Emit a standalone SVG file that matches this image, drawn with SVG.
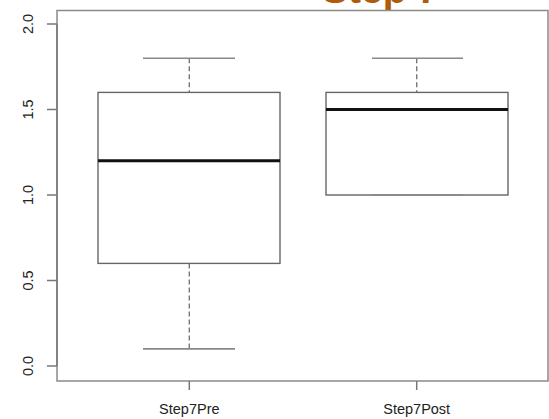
<svg xmlns="http://www.w3.org/2000/svg" width="549" height="419" viewBox="0 0 549 419">
<style>
.frame{fill:none;stroke:#8a8a8a;stroke-width:1.5}
.axis{fill:none;stroke:#777;stroke-width:1.5}
.box{fill:#fff;stroke:#666;stroke-width:1.4}
.med{stroke:#111;stroke-width:3}
.whisk{stroke:#777;stroke-width:1.4;stroke-dasharray:5 3}
.cap{stroke:#888;stroke-width:1.6}
.lbl{font-family:"Liberation Sans",Arial,sans-serif;font-size:14.5px;fill:#222}
.title{font-family:"Liberation Sans",Arial,sans-serif;font-size:39px;font-weight:bold;fill:#b05a0c}
</style>
<rect width="549" height="419" fill="#fff"/>
<g id="title"><text class="title" x="322" y="3">Step 7</text></g>
<g id="frame"><rect class="frame" x="57" y="10.5" width="491" height="370.5"/></g>
<g id="yaxis">
<line class="axis" x1="57" y1="24" x2="57" y2="366"/>
<line class="axis" x1="47" y1="24" x2="57" y2="24"/>
<line class="axis" x1="47" y1="109.5" x2="57" y2="109.5"/>
<line class="axis" x1="47" y1="195" x2="57" y2="195"/>
<line class="axis" x1="47" y1="280.5" x2="57" y2="280.5"/>
<line class="axis" x1="47" y1="366" x2="57" y2="366"/>
<text class="lbl" text-anchor="middle" transform="translate(33,24) rotate(-90)">2.0</text>
<text class="lbl" text-anchor="middle" transform="translate(33,109.5) rotate(-90)">1.5</text>
<text class="lbl" text-anchor="middle" transform="translate(33,195) rotate(-90)">1.0</text>
<text class="lbl" text-anchor="middle" transform="translate(33,280.5) rotate(-90)">0.5</text>
<text class="lbl" text-anchor="middle" transform="translate(33,366) rotate(-90)">0.0</text>
</g>
<g id="xaxis">
<line class="axis" x1="189.3" y1="381" x2="189.3" y2="390"/>
<line class="axis" x1="416.7" y1="381" x2="416.7" y2="390"/>
<text class="lbl" text-anchor="middle" x="189.3" y="414">Step7Pre</text>
<text class="lbl" text-anchor="middle" x="416.7" y="414">Step7Post</text>
</g>
<g id="step7pre">
<line class="whisk" x1="189.3" y1="58.2" x2="189.3" y2="92.4"/>
<line class="whisk" x1="189.3" y1="263.4" x2="189.3" y2="348.9"/>
<line class="cap" x1="143" y1="58.2" x2="235" y2="58.2"/>
<line class="cap" x1="143" y1="348.9" x2="235" y2="348.9"/>
<rect class="box" x="98" y="92.4" width="182" height="171"/>
<line class="med" x1="98" y1="160.8" x2="280" y2="160.8"/>
</g>
<g id="step7post">
<line class="whisk" x1="416.7" y1="58.2" x2="416.7" y2="92.4"/>
<line class="cap" x1="372" y1="58.2" x2="463" y2="58.2"/>
<rect class="box" x="326" y="92.4" width="182" height="102.6"/>
<line class="cap" x1="372" y1="195" x2="463" y2="195"/>
<line class="med" x1="326" y1="109.5" x2="508" y2="109.5"/>
</g>
</svg>
